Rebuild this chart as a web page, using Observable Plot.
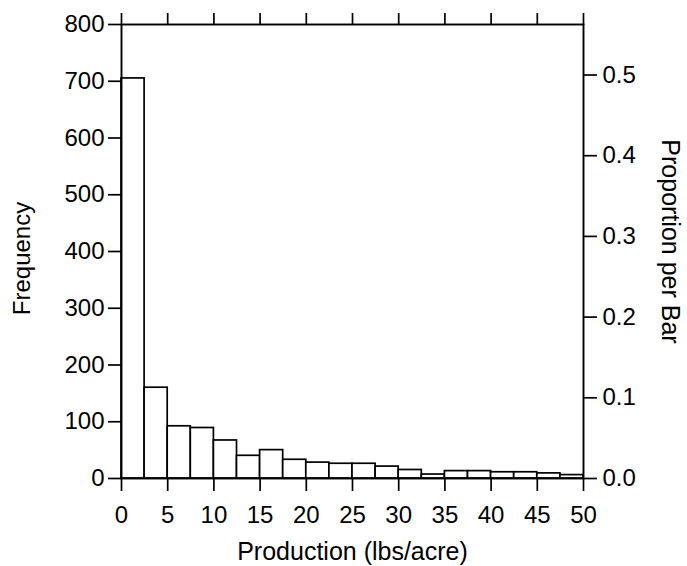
<!DOCTYPE html>
<html><head><meta charset="utf-8">
<script src="https://cdn.jsdelivr.net/npm/d3@7"></script>
<script src="https://cdn.jsdelivr.net/npm/@observablehq/plot@0.6"></script>
<style>
body{margin:0;background:#fff;}
#chart svg{display:block;}
</style>
</head><body><div id="chart"></div>
<script>
// Histogram bins (lower edges), bin width, and counts
const binStart = [0, 2.5, 5, 7.5, 10, 12.5, 15, 17.5, 20, 22.5, 25, 27.5, 30, 32.5, 35, 37.5, 40, 42.5, 45, 47.5];
const binWidth = 2.5;
const frequency = [705, 160, 92, 89, 67, 40, 50, 33, 28, 26, 26, 21, 15, 7, 13, 13, 11, 11, 9, 6];
const xTicks = [0, 5, 10, 15, 20, 25, 30, 35, 40, 45, 50];
const freqTicks = [0, 100, 200, 300, 400, 500, 600, 700, 800];
const propTicks = [0, 0.1, 0.2, 0.3, 0.4, 0.5];
const xTitle = "Production (lbs/acre)";
const yTitle = "Frequency";
const y2Title = "Proportion per Bar";

const total = d3.sum(frequency);
const bins = binStart.map((s, i) => ({x1: s, x2: s + binWidth, count: frequency[i]}));

const chart = Plot.plot({
  width: 687,
  height: 566,
  marginLeft: 121,
  marginRight: 104,
  marginTop: 24,
  marginBottom: 88,
  x: {domain: [0, 50]},
  y: {domain: [0, 800]},
  style: {fontFamily: "'Liberation Sans', Arial, sans-serif", fontSize: "24px", color: "black", background: "white"},
  marks: [
    Plot.rectY(bins, {x1: "x1", x2: "x2", y: "count", fill: "white", stroke: "black", strokeWidth: 1.7}),
    Plot.frame({stroke: "black", strokeWidth: 1.9}),
    Plot.axisY(freqTicks, {anchor: "left", tickSize: 13, tickPadding: 4, strokeWidth: 1.7, fontSize: 24, label: null}),
    Plot.axisY(propTicks.map(p => p * total), {anchor: "right", tickSize: 13, tickPadding: 6, strokeWidth: 1.7, fontSize: 24, label: null,
      tickFormat: d => (d / total).toFixed(1)}),
    Plot.axisX(xTicks, {anchor: "bottom", tickSize: 13, tickPadding: 14, strokeWidth: 1.7, fontSize: 24, label: null}),
    Plot.axisX(xTicks, {anchor: "top", tickSize: 12, strokeWidth: 1.7, label: null, tickFormat: () => ""}),
    Plot.text([xTitle], {frameAnchor: "bottom", textAnchor: "middle", lineAnchor: "bottom", dy: 81, fontSize: 25, fill: "black"}),
    Plot.text([yTitle], {frameAnchor: "left", textAnchor: "middle", lineAnchor: "middle", dx: -99, dy: 7, rotate: -90, fontSize: 24, fill: "black"}),
    Plot.text([y2Title], {frameAnchor: "right", textAnchor: "middle", lineAnchor: "middle", dx: 86, dy: -10, rotate: 90, fontSize: 25, fill: "black"})
  ]
});
document.getElementById("chart").appendChild(chart);
</script>
</body></html>
